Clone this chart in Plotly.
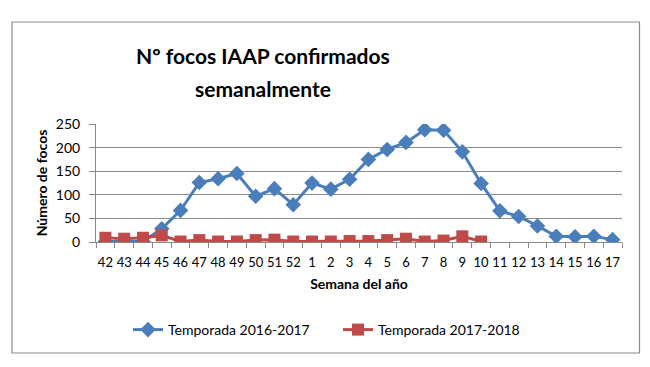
import plotly.graph_objects as go

weeks = ["42", "43", "44", "45", "46", "47", "48", "49", "50", "51", "52",
         "1", "2", "3", "4", "5", "6", "7", "8", "9", "10", "11", "12", "13",
         "14", "15", "16", "17"]
season_2016_2017 = [1, 1, 1, 28, 67, 126, 134, 145, 97, 113, 79,
                    125, 112, 133, 175, 196, 211, 238, 237, 191, 124, 66, 54, 34,
                    12, 11, 12, 5]
season_2017_2018 = [9, 7, 9, 14, 1, 4, 1, 1, 4, 5, 1,
                    1, 1, 2, 2, 4, 7, 1, 3, 12, 1]
y_ticks = [0, 50, 100, 150, 200, 250]

FONT = "Lato"
OFF = 8  # page body margin offset
W, H = 650, 367
L = 96 - OFF
T = 124 - OFF
R = W - (622 - OFF)
B = H - (242 - OFF)
pw = W - L - R
ph = H - T - B

def px_x(x):
    return (x - OFF - L) / pw

def px_y(y):
    return (H - B - (y - OFF)) / ph

fig = go.Figure()
fig.add_trace(go.Scatter(
    x=weeks, y=season_2016_2017, mode="lines+markers",
    name="Temporada 2016-2017",
    line=dict(color="#4A7EBB", width=3),
    marker=dict(symbol="diamond", size=12, color="#4A7EBB"),
    legend="legend",
))
fig.add_trace(go.Scatter(
    x=weeks[:len(season_2017_2018)], y=season_2017_2018, mode="lines+markers",
    name="Temporada 2017-2018",
    line=dict(color="#BE4B48", width=3),
    marker=dict(symbol="square", size=12, color="#BE4B48"),
    legend="legend2",
))

fig.add_shape(type="rect", xref="paper", yref="paper",
              x0=px_x(12), x1=px_x(639.5), y0=px_y(353), y1=px_y(22),
              line=dict(color="#8C8C8C", width=1.2), layer="below")

for txt, yy in [("<b>Nº focos IAAP confirmados</b>", 55), ("<b>semanalmente</b>", 88)]:
    fig.add_annotation(text=txt, xref="paper", yref="paper",
                       x=px_x(263), y=px_y(yy),
                       xanchor="center", yanchor="middle", showarrow=False,
                       font=dict(family=FONT, size=21, color="#000000"))

leg_common = dict(orientation="h", yanchor="middle",
                  xanchor="left", itemwidth=30, tracegroupgap=0,
                  font=dict(family=FONT, size=14, color="#000000"),
                  bgcolor="rgba(0,0,0,0)")

fig.update_layout(
    width=W, height=H,
    margin=dict(l=L, r=R, t=T, b=B, autoexpand=False),
    paper_bgcolor="white", plot_bgcolor="white",
    font=dict(family=FONT, size=14, color="#000000"),
    showlegend=True,
    legend=dict(x=px_x(128), y=px_y(330), **leg_common),
    legend2=dict(x=px_x(338), y=px_y(330), **leg_common),
    xaxis=dict(
        type="category", categoryorder="array", categoryarray=weeks,
        showgrid=False, showline=True, linecolor="#888888", linewidth=1,
        ticks="outside", tickson="boundaries", ticklen=5, tickcolor="#888888",
        tickangle=0, automargin=False, ticklabelstandoff=8,
        title=dict(text="<b>Semana del año</b>", standoff=10,
                   font=dict(family=FONT, size=14)),
        tickfont=dict(family=FONT, size=13),
        range=[-0.5, len(weeks) - 0.5],
    ),
    yaxis=dict(
        range=[0, 250], tickvals=y_ticks, showgrid=True,
        gridcolor="#8C8C8C", gridwidth=1, zeroline=False,
        showline=True, linecolor="#888888", linewidth=1,
        ticks="outside", ticklen=6, tickcolor="#888888",
        automargin=False, ticklabelstandoff=6,
        title=dict(text="<b>Número de focos</b>", standoff=4,
                   font=dict(family=FONT, size=14)),
        tickfont=dict(family=FONT, size=14),
    ),
)

fig.write_html("out.html")
